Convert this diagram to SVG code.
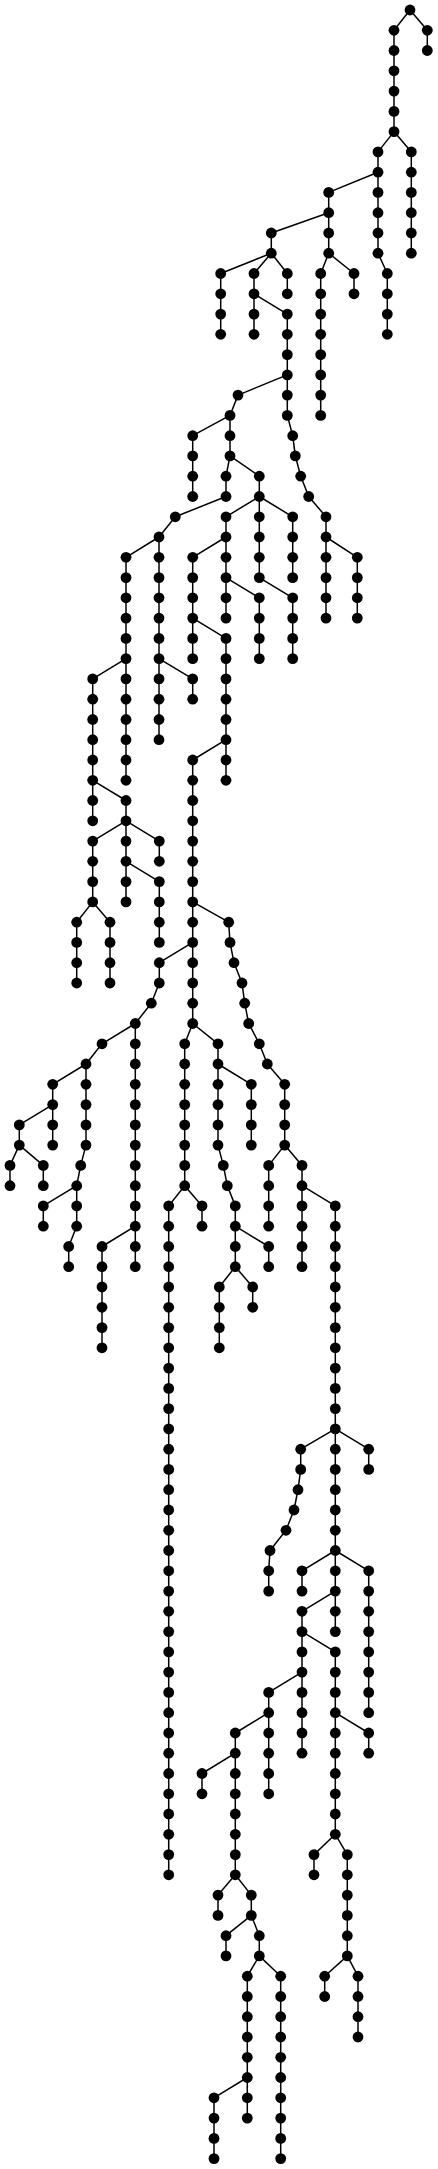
<svg xmlns="http://www.w3.org/2000/svg" width="438" height="2169" viewBox="0 0 438 2169">
<style>
.c path{fill:none;stroke:#000;stroke-width:1.5}
.n circle{fill:#000;r:5.4px}
</style>
<rect width="438" height="2169" fill="#fff"/>
<g id="connectors" class="c">
<path d="M410 10L394 30.3"/><path d="M410 10L427.3 30.3"/>
<path d="M427.3 30.3V50.5"/>
<path d="M394 30.3V131.6"/>
<path d="M394 131.6L378 151.9"/><path d="M394 131.6L411.3 151.9"/>
<path d="M411.3 151.9V253.2"/>
<path d="M378 151.9V253.2"/>
<path d="M378 172.2L328.7 192.4"/>
<path d="M328.7 192.4V253.2"/>
<path d="M328.7 212.7L271.3 233"/>
<path d="M271.3 233V253.2"/>
<path d="M271.3 253.2L220.7 273.5"/><path d="M271.3 253.2L254 273.5"/><path d="M271.3 253.2L287.3 273.5"/>
<path d="M328.7 253.2L320.7 273.5"/><path d="M328.7 253.2L354 273.5"/>
<path d="M378 253.2L387.3 273.5"/>
<path d="M220.7 273.5V334.3"/>
<path d="M254 273.5V334.3"/>
<path d="M287.3 273.5V293.8"/>
<path d="M354 273.5V293.8"/>
<path d="M387.3 273.5V334.3"/>
<path d="M254 293.8L287.3 314.1"/>
<path d="M287.3 314.1V395.1"/>
<path d="M320.7 273.5V415.4"/>
<path d="M287.3 374.9L238 395.1"/>
<path d="M287.3 395.1V415.4"/>
<path d="M238 395.1L230 415.4"/>
<path d="M230 415.4V455.9"/>
<path d="M230 415.4L192.7 435.7"/>
<path d="M192.7 435.7V496.5"/>
<path d="M287.3 415.4L292.7 435.7"/>
<path d="M292.7 435.7L295.3 455.9"/><path d="M295.3 455.9L300.7 476.2"/><path d="M300.7 476.2L308.7 496.5"/><path d="M308.7 496.5L326 516.8"/>
<path d="M230 455.9L226 476.2"/><path d="M230 455.9L259.3 476.2"/>
<path d="M226 476.2V496.5"/>
<path d="M259.3 476.2V577.6"/>
<path d="M226 496.5L175.3 516.8"/>
<path d="M175.3 516.8L159 537"/>
<path d="M259.3 496.5L226 516.8"/><path d="M259.3 496.5L292.7 516.8"/>
<path d="M292.7 516.8V577.6"/>
<path d="M326 516.8V618.1"/>
<path d="M326 537L357.3 557.3"/>
<path d="M357.3 557.3V618.1"/>
<path d="M226 516.8V618.1"/>
<path d="M226 537L192.7 557.3"/>
<path d="M192.7 557.3V658.6"/>
<path d="M226 577.6L259.3 597.8"/>
<path d="M259.3 597.8V658.6"/>
<path d="M259.3 577.6L292.7 597.8"/>
<path d="M292.7 597.8V658.6"/>
<path d="M192.7 618.1L226 638.4"/>
<path d="M226 638.4V780.3"/>
<path d="M159 537V658.6"/>
<path d="M159 537L126 557.3"/>
<path d="M126 557.3V658.6"/>
<path d="M126 658.6L92.7 678.9"/>
<path d="M126 658.6V780.3"/>
<path d="M159 658.6V739.7"/>
<path d="M159 658.6L192.7 678.9"/>
<path d="M192.7 678.9V699.2"/>
<path d="M92.7 678.9V820.8"/>
<path d="M92.7 780.3L126 800.5"/>
<path d="M126 800.5V901.9"/>
<path d="M126 820.8L92.7 841.1"/><path d="M126 820.8L159.3 841.1"/>
<path d="M159.3 841.1V861.3"/>
<path d="M126 861.3L159.3 881.6"/>
<path d="M159.3 881.6V942.4"/>
<path d="M92.7 841.1V901.9"/>
<path d="M92.7 901.9L76.7 922.2"/><path d="M92.7 901.9L110 922.2"/>
<path d="M76.7 922.2V983"/>
<path d="M110 922.2V983"/>
<path d="M226 739.7L192.7 760"/>
<path d="M192.7 760V1023.5"/>
<path d="M192.7 901.9L228.7 922.2"/>
<path d="M228.7 922.2L230 942.4"/><path d="M230 942.4L234 962.7"/><path d="M234 962.7L242 983"/><path d="M242 983L244.7 1003.2"/><path d="M244.7 1003.2L248.7 1023.5"/><path d="M248.7 1023.5L259.3 1043.8"/><path d="M259.3 1043.8L267.3 1064"/><path d="M267.3 1064L284.7 1084.3"/>
<path d="M192.7 942.4L159.3 962.7"/>
<path d="M159.3 962.7V983"/>
<path d="M159.3 983L151.3 1003.2"/>
<path d="M151.3 1003.2L135.3 1023.5"/>
<path d="M135.3 1023.5L102 1043.8"/>
<path d="M135.3 1023.5V1266.7"/>
<path d="M102 1043.8L86 1064"/>
<path d="M86 1064L52.7 1084.3"/>
<path d="M86 1064V1145.1"/>
<path d="M52.7 1084.3V1145.1"/>
<path d="M52.7 1104.6L19.3 1124.9"/>
<path d="M19.3 1124.9V1145.1"/>
<path d="M19.3 1145.1L10 1165.4"/><path d="M19.3 1145.1L43.3 1165.4"/>
<path d="M10 1165.4V1185.7"/>
<path d="M43.3 1165.4V1185.7"/>
<path d="M86 1145.1L80.7 1165.4"/><path d="M80.7 1165.4L76.7 1185.7"/>
<path d="M76.7 1185.7V1226.2"/>
<path d="M76.7 1185.7L43.3 1205.9"/>
<path d="M43.3 1205.9V1226.2"/>
<path d="M76.7 1226.2L68.7 1246.5"/>
<path d="M68.7 1246.5V1266.7"/>
<path d="M135.3 1226.2L102 1246.5"/>
<path d="M102 1246.5V1347.8"/>
<path d="M192.7 1023.5L184.7 1043.8"/><path d="M192.7 1023.5L218 1043.8"/>
<path d="M184.7 1043.8V1185.7"/>
<path d="M184.7 1185.7L168.7 1205.9"/><path d="M184.7 1185.7L202 1205.9"/>
<path d="M202 1205.9V1226.2"/>
<path d="M168.7 1205.9V1874.8"/>
<path d="M218 1043.8V1145.1"/>
<path d="M218 1064L251.3 1084.3"/>
<path d="M251.3 1084.3V1145.1"/>
<path d="M218 1145.1L223.3 1165.4"/><path d="M223.3 1165.4L227.3 1185.7"/><path d="M227.3 1185.7L235.3 1205.9"/>
<path d="M235.3 1205.9V1266.7"/>
<path d="M235.3 1226.2L268.7 1246.5"/>
<path d="M268.7 1246.5V1266.7"/>
<path d="M235.3 1266.7L219.3 1287"/><path d="M235.3 1266.7L252.7 1287"/>
<path d="M252.7 1287V1307.3"/>
<path d="M219.3 1287V1347.8"/>
<path d="M284.7 1084.3V1145.1"/>
<path d="M284.7 1145.1L268.7 1165.4"/><path d="M284.7 1145.1L302 1165.4"/>
<path d="M268.7 1165.4V1226.2"/>
<path d="M302 1165.4V1266.7"/>
<path d="M302 1185.7L335.3 1205.9"/>
<path d="M335.3 1205.9V1428.9"/>
<path d="M335.3 1428.9L300.7 1449.2"/><path d="M335.3 1428.9L368.7 1449.2"/>
<path d="M368.7 1449.2V1469.4"/>
<path d="M300.7 1449.2V1469.4"/>
<path d="M300.7 1469.4L298 1489.7"/><path d="M298 1489.7L294 1510"/><path d="M294 1510L286 1530.3"/><path d="M286 1530.3L270 1550.5"/><path d="M270 1550.5L268.7 1570.8"/>
<path d="M268.7 1570.8V1591.1"/>
<path d="M335.3 1428.9V1550.5"/>
<path d="M335.3 1550.5L302 1570.8"/><path d="M335.3 1550.5L368.7 1570.8"/>
<path d="M302 1570.8V1591.1"/>
<path d="M368.7 1570.8V1712.7"/>
<path d="M335.3 1550.5V1631.6"/>
<path d="M335.3 1591.1L302 1611.3"/>
<path d="M302 1611.3V1753.2"/>
<path d="M302 1631.6L335.3 1651.9"/>
<path d="M335.3 1651.9V1834.3"/>
<path d="M335.3 1712.7L368.7 1733"/>
<path d="M368.7 1733V1753.2"/>
<path d="M302 1672.1L268.7 1692.4"/>
<path d="M268.7 1692.4V1793.8"/>
<path d="M268.7 1712.7L235.3 1733"/>
<path d="M235.3 1733V1874.8"/>
<path d="M235.3 1753.2L202 1773.5"/>
<path d="M202 1773.5V1793.8"/>
<path d="M235.3 1874.8L218 1895.1"/><path d="M235.3 1874.8L251.3 1895.1"/>
<path d="M218 1895.1V1915.4"/>
<path d="M251.3 1895.1V1915.4"/>
<path d="M251.3 1915.4L226 1935.7"/><path d="M251.3 1915.4L259.3 1935.7"/>
<path d="M226 1935.7V1955.9"/>
<path d="M259.3 1935.7V1955.9"/>
<path d="M259.3 1955.9L247.3 1976.2"/><path d="M259.3 1955.9L280.7 1976.2"/>
<path d="M247.3 1976.2V2118.1"/>
<path d="M280.7 1976.2V2158.6"/>
<path d="M247.3 2077.5L214 2097.8"/>
<path d="M214 2097.8V2158.6"/>
<path d="M335.3 1834.3L314 1854.6"/><path d="M335.3 1834.3L347.3 1854.6"/>
<path d="M314 1854.6V1874.8"/>
<path d="M347.3 1854.6V1955.9"/>
<path d="M347.3 1955.9L324.7 1976.2"/><path d="M347.3 1955.9L358 1976.2"/>
<path d="M324.7 1976.2V1996.5"/>
<path d="M358 1976.2V2037"/>
</g>
<g id="nodes" class="n">
<g id="n0_a"><circle cx="410" cy="10"/></g>
<g id="n1_a"><circle cx="394" cy="30.3"/></g><g id="n1_b"><circle cx="427.3" cy="30.3"/></g>
<g id="n2_a"><circle cx="394" cy="50.5"/></g><g id="n2_b"><circle cx="427.3" cy="50.5"/></g>
<g id="n3_a"><circle cx="394" cy="70.8"/></g>
<g id="n4_a"><circle cx="394" cy="91.1"/></g>
<g id="n5_a"><circle cx="394" cy="111.4"/></g>
<g id="n6_a"><circle cx="394" cy="131.6"/></g>
<g id="n7_a"><circle cx="378" cy="151.9"/></g><g id="n7_b"><circle cx="411.3" cy="151.9"/></g>
<g id="n8_a"><circle cx="378" cy="172.2"/></g><g id="n8_b"><circle cx="411.3" cy="172.2"/></g>
<g id="n9_a"><circle cx="328.7" cy="192.4"/></g><g id="n9_b"><circle cx="378" cy="192.4"/></g><g id="n9_c"><circle cx="411.3" cy="192.4"/></g>
<g id="n10_a"><circle cx="328.7" cy="212.7"/></g><g id="n10_b"><circle cx="378" cy="212.7"/></g><g id="n10_c"><circle cx="411.3" cy="212.7"/></g>
<g id="n11_a"><circle cx="271.3" cy="233"/></g><g id="n11_b"><circle cx="328.7" cy="233"/></g><g id="n11_c"><circle cx="378" cy="233"/></g><g id="n11_d"><circle cx="411.3" cy="233"/></g>
<g id="n12_a"><circle cx="271.3" cy="253.2"/></g><g id="n12_b"><circle cx="328.7" cy="253.2"/></g><g id="n12_c"><circle cx="378" cy="253.2"/></g><g id="n12_d"><circle cx="411.3" cy="253.2"/></g>
<g id="n13_a"><circle cx="220.7" cy="273.5"/></g><g id="n13_b"><circle cx="254" cy="273.5"/></g><g id="n13_c"><circle cx="287.3" cy="273.5"/></g><g id="n13_d"><circle cx="320.7" cy="273.5"/></g><g id="n13_e"><circle cx="354" cy="273.5"/></g><g id="n13_f"><circle cx="387.3" cy="273.5"/></g>
<g id="n14_a"><circle cx="220.7" cy="293.8"/></g><g id="n14_b"><circle cx="254" cy="293.8"/></g><g id="n14_c"><circle cx="287.3" cy="293.8"/></g><g id="n14_d"><circle cx="320.7" cy="293.8"/></g><g id="n14_e"><circle cx="354" cy="293.8"/></g><g id="n14_f"><circle cx="387.3" cy="293.8"/></g>
<g id="n15_a"><circle cx="220.7" cy="314.1"/></g><g id="n15_b"><circle cx="254" cy="314.1"/></g><g id="n15_c"><circle cx="287.3" cy="314.1"/></g><g id="n15_d"><circle cx="320.7" cy="314.1"/></g><g id="n15_e"><circle cx="387.3" cy="314.1"/></g>
<g id="n16_a"><circle cx="220.7" cy="334.3"/></g><g id="n16_b"><circle cx="254" cy="334.3"/></g><g id="n16_c"><circle cx="287.3" cy="334.3"/></g><g id="n16_d"><circle cx="320.7" cy="334.3"/></g><g id="n16_e"><circle cx="387.3" cy="334.3"/></g>
<g id="n17_a"><circle cx="287.3" cy="354.6"/></g><g id="n17_b"><circle cx="320.7" cy="354.6"/></g>
<g id="n18_a"><circle cx="287.3" cy="374.9"/></g><g id="n18_b"><circle cx="320.7" cy="374.9"/></g>
<g id="n19_a"><circle cx="238" cy="395.1"/></g><g id="n19_b"><circle cx="287.3" cy="395.1"/></g><g id="n19_c"><circle cx="320.7" cy="395.1"/></g>
<g id="n20_a"><circle cx="230" cy="415.4"/></g><g id="n20_b"><circle cx="287.3" cy="415.4"/></g><g id="n20_c"><circle cx="320.7" cy="415.4"/></g>
<g id="n21_a"><circle cx="192.7" cy="435.7"/></g><g id="n21_b"><circle cx="230" cy="435.7"/></g><g id="n21_c"><circle cx="292.7" cy="435.7"/></g>
<g id="n22_a"><circle cx="192.7" cy="455.9"/></g><g id="n22_b"><circle cx="230" cy="455.9"/></g><g id="n22_c"><circle cx="295.3" cy="455.9"/></g>
<g id="n23_a"><circle cx="192.7" cy="476.2"/></g><g id="n23_b"><circle cx="226" cy="476.2"/></g><g id="n23_c"><circle cx="259.3" cy="476.2"/></g><g id="n23_d"><circle cx="300.7" cy="476.2"/></g>
<g id="n24_a"><circle cx="192.7" cy="496.5"/></g><g id="n24_b"><circle cx="226" cy="496.5"/></g><g id="n24_c"><circle cx="259.3" cy="496.5"/></g><g id="n24_d"><circle cx="308.7" cy="496.5"/></g>
<g id="n25_a"><circle cx="175.3" cy="516.8"/></g><g id="n25_b"><circle cx="226" cy="516.8"/></g><g id="n25_c"><circle cx="259.3" cy="516.8"/></g><g id="n25_d"><circle cx="292.7" cy="516.8"/></g><g id="n25_e"><circle cx="326" cy="516.8"/></g>
<g id="n26_a"><circle cx="159" cy="537"/></g><g id="n26_b"><circle cx="226" cy="537"/></g><g id="n26_c"><circle cx="259.3" cy="537"/></g><g id="n26_d"><circle cx="292.7" cy="537"/></g><g id="n26_e"><circle cx="326" cy="537"/></g>
<g id="n27_a"><circle cx="126" cy="557.3"/></g><g id="n27_b"><circle cx="159" cy="557.3"/></g><g id="n27_c"><circle cx="192.7" cy="557.3"/></g><g id="n27_d"><circle cx="226" cy="557.3"/></g><g id="n27_e"><circle cx="259.3" cy="557.3"/></g><g id="n27_f"><circle cx="292.7" cy="557.3"/></g><g id="n27_g"><circle cx="326" cy="557.3"/></g><g id="n27_h"><circle cx="357.3" cy="557.3"/></g>
<g id="n28_a"><circle cx="126" cy="577.6"/></g><g id="n28_b"><circle cx="159" cy="577.6"/></g><g id="n28_c"><circle cx="192.7" cy="577.6"/></g><g id="n28_d"><circle cx="226" cy="577.6"/></g><g id="n28_e"><circle cx="259.3" cy="577.6"/></g><g id="n28_f"><circle cx="292.7" cy="577.6"/></g><g id="n28_g"><circle cx="326" cy="577.6"/></g><g id="n28_h"><circle cx="357.3" cy="577.6"/></g>
<g id="n29_a"><circle cx="126" cy="597.8"/></g><g id="n29_b"><circle cx="159" cy="597.8"/></g><g id="n29_c"><circle cx="192.7" cy="597.8"/></g><g id="n29_d"><circle cx="226" cy="597.8"/></g><g id="n29_e"><circle cx="259.3" cy="597.8"/></g><g id="n29_f"><circle cx="292.7" cy="597.8"/></g><g id="n29_g"><circle cx="326" cy="597.8"/></g><g id="n29_h"><circle cx="357.3" cy="597.8"/></g>
<g id="n30_a"><circle cx="126" cy="618.1"/></g><g id="n30_b"><circle cx="159" cy="618.1"/></g><g id="n30_c"><circle cx="192.7" cy="618.1"/></g><g id="n30_d"><circle cx="226" cy="618.1"/></g><g id="n30_e"><circle cx="259.3" cy="618.1"/></g><g id="n30_f"><circle cx="292.7" cy="618.1"/></g><g id="n30_g"><circle cx="326" cy="618.1"/></g><g id="n30_h"><circle cx="357.3" cy="618.1"/></g>
<g id="n31_a"><circle cx="126" cy="638.4"/></g><g id="n31_b"><circle cx="159" cy="638.4"/></g><g id="n31_c"><circle cx="192.7" cy="638.4"/></g><g id="n31_d"><circle cx="226" cy="638.4"/></g><g id="n31_e"><circle cx="259.3" cy="638.4"/></g><g id="n31_f"><circle cx="292.7" cy="638.4"/></g>
<g id="n32_a"><circle cx="126" cy="658.6"/></g><g id="n32_b"><circle cx="159" cy="658.6"/></g><g id="n32_c"><circle cx="192.7" cy="658.6"/></g><g id="n32_d"><circle cx="226" cy="658.6"/></g><g id="n32_e"><circle cx="259.3" cy="658.6"/></g><g id="n32_f"><circle cx="292.7" cy="658.6"/></g>
<g id="n33_a"><circle cx="92.7" cy="678.9"/></g><g id="n33_b"><circle cx="126" cy="678.9"/></g><g id="n33_c"><circle cx="159" cy="678.9"/></g><g id="n33_d"><circle cx="192.7" cy="678.9"/></g><g id="n33_e"><circle cx="226" cy="678.9"/></g>
<g id="n34_a"><circle cx="92.7" cy="699.2"/></g><g id="n34_b"><circle cx="126" cy="699.2"/></g><g id="n34_c"><circle cx="159" cy="699.2"/></g><g id="n34_d"><circle cx="192.7" cy="699.2"/></g><g id="n34_e"><circle cx="226" cy="699.2"/></g>
<g id="n35_a"><circle cx="92.7" cy="719.5"/></g><g id="n35_b"><circle cx="126" cy="719.5"/></g><g id="n35_c"><circle cx="159" cy="719.5"/></g><g id="n35_d"><circle cx="226" cy="719.5"/></g>
<g id="n36_a"><circle cx="92.7" cy="739.7"/></g><g id="n36_b"><circle cx="126" cy="739.7"/></g><g id="n36_c"><circle cx="159" cy="739.7"/></g><g id="n36_d"><circle cx="226" cy="739.7"/></g>
<g id="n37_a"><circle cx="92.7" cy="760"/></g><g id="n37_b"><circle cx="126" cy="760"/></g><g id="n37_c"><circle cx="192.7" cy="760"/></g><g id="n37_d"><circle cx="226" cy="760"/></g>
<g id="n38_a"><circle cx="92.7" cy="780.3"/></g><g id="n38_b"><circle cx="126" cy="780.3"/></g><g id="n38_c"><circle cx="192.7" cy="780.3"/></g><g id="n38_d"><circle cx="226" cy="780.3"/></g>
<g id="n39_a"><circle cx="92.7" cy="800.5"/></g><g id="n39_b"><circle cx="126" cy="800.5"/></g><g id="n39_c"><circle cx="192.7" cy="800.5"/></g>
<g id="n40_a"><circle cx="92.7" cy="820.8"/></g><g id="n40_b"><circle cx="126" cy="820.8"/></g><g id="n40_c"><circle cx="192.7" cy="820.8"/></g>
<g id="n41_a"><circle cx="92.7" cy="841.1"/></g><g id="n41_b"><circle cx="126" cy="841.1"/></g><g id="n41_c"><circle cx="159.3" cy="841.1"/></g><g id="n41_d"><circle cx="192.7" cy="841.1"/></g>
<g id="n42_a"><circle cx="92.7" cy="861.3"/></g><g id="n42_b"><circle cx="126" cy="861.3"/></g><g id="n42_c"><circle cx="159.3" cy="861.3"/></g><g id="n42_d"><circle cx="192.7" cy="861.3"/></g>
<g id="n43_a"><circle cx="92.7" cy="881.6"/></g><g id="n43_b"><circle cx="126" cy="881.6"/></g><g id="n43_c"><circle cx="159.3" cy="881.6"/></g><g id="n43_d"><circle cx="192.7" cy="881.6"/></g>
<g id="n44_a"><circle cx="92.7" cy="901.9"/></g><g id="n44_b"><circle cx="126" cy="901.9"/></g><g id="n44_c"><circle cx="159.3" cy="901.9"/></g><g id="n44_d"><circle cx="192.7" cy="901.9"/></g>
<g id="n45_a"><circle cx="76.7" cy="922.2"/></g><g id="n45_b"><circle cx="110" cy="922.2"/></g><g id="n45_c"><circle cx="159.3" cy="922.2"/></g><g id="n45_d"><circle cx="192.7" cy="922.2"/></g><g id="n45_e"><circle cx="228.7" cy="922.2"/></g>
<g id="n46_a"><circle cx="76.7" cy="942.4"/></g><g id="n46_b"><circle cx="110" cy="942.4"/></g><g id="n46_c"><circle cx="159.3" cy="942.4"/></g><g id="n46_d"><circle cx="192.7" cy="942.4"/></g><g id="n46_e"><circle cx="230" cy="942.4"/></g>
<g id="n47_a"><circle cx="76.7" cy="962.7"/></g><g id="n47_b"><circle cx="110" cy="962.7"/></g><g id="n47_c"><circle cx="159.3" cy="962.7"/></g><g id="n47_d"><circle cx="192.7" cy="962.7"/></g><g id="n47_e"><circle cx="234" cy="962.7"/></g>
<g id="n48_a"><circle cx="76.7" cy="983"/></g><g id="n48_b"><circle cx="110" cy="983"/></g><g id="n48_c"><circle cx="159.3" cy="983"/></g><g id="n48_d"><circle cx="192.7" cy="983"/></g><g id="n48_e"><circle cx="242" cy="983"/></g>
<g id="n49_a"><circle cx="151.3" cy="1003.2"/></g><g id="n49_b"><circle cx="192.7" cy="1003.2"/></g><g id="n49_c"><circle cx="244.7" cy="1003.2"/></g>
<g id="n50_a"><circle cx="135.3" cy="1023.5"/></g><g id="n50_b"><circle cx="192.7" cy="1023.5"/></g><g id="n50_c"><circle cx="248.7" cy="1023.5"/></g>
<g id="n51_a"><circle cx="102" cy="1043.8"/></g><g id="n51_b"><circle cx="135.3" cy="1043.8"/></g><g id="n51_c"><circle cx="184.7" cy="1043.8"/></g><g id="n51_d"><circle cx="218" cy="1043.8"/></g><g id="n51_e"><circle cx="259.3" cy="1043.8"/></g>
<g id="n52_a"><circle cx="86" cy="1064"/></g><g id="n52_b"><circle cx="135.3" cy="1064"/></g><g id="n52_c"><circle cx="184.7" cy="1064"/></g><g id="n52_d"><circle cx="218" cy="1064"/></g><g id="n52_e"><circle cx="267.3" cy="1064"/></g>
<g id="n53_a"><circle cx="52.7" cy="1084.3"/></g><g id="n53_b"><circle cx="86" cy="1084.3"/></g><g id="n53_c"><circle cx="135.3" cy="1084.3"/></g><g id="n53_d"><circle cx="184.7" cy="1084.3"/></g><g id="n53_e"><circle cx="218" cy="1084.3"/></g><g id="n53_f"><circle cx="251.3" cy="1084.3"/></g><g id="n53_g"><circle cx="284.7" cy="1084.3"/></g>
<g id="n54_a"><circle cx="52.7" cy="1104.6"/></g><g id="n54_b"><circle cx="86" cy="1104.6"/></g><g id="n54_c"><circle cx="135.3" cy="1104.6"/></g><g id="n54_d"><circle cx="184.7" cy="1104.6"/></g><g id="n54_e"><circle cx="218" cy="1104.6"/></g><g id="n54_f"><circle cx="251.3" cy="1104.6"/></g><g id="n54_g"><circle cx="284.7" cy="1104.6"/></g>
<g id="n55_a"><circle cx="19.3" cy="1124.9"/></g><g id="n55_b"><circle cx="52.7" cy="1124.9"/></g><g id="n55_c"><circle cx="86" cy="1124.9"/></g><g id="n55_d"><circle cx="135.3" cy="1124.9"/></g><g id="n55_e"><circle cx="184.7" cy="1124.9"/></g><g id="n55_f"><circle cx="218" cy="1124.9"/></g><g id="n55_g"><circle cx="251.3" cy="1124.9"/></g><g id="n55_h"><circle cx="284.7" cy="1124.9"/></g>
<g id="n56_a"><circle cx="19.3" cy="1145.1"/></g><g id="n56_b"><circle cx="52.7" cy="1145.1"/></g><g id="n56_c"><circle cx="86" cy="1145.1"/></g><g id="n56_d"><circle cx="135.3" cy="1145.1"/></g><g id="n56_e"><circle cx="184.7" cy="1145.1"/></g><g id="n56_f"><circle cx="218" cy="1145.1"/></g><g id="n56_g"><circle cx="251.3" cy="1145.1"/></g><g id="n56_h"><circle cx="284.7" cy="1145.1"/></g>
<g id="n57_a"><circle cx="10" cy="1165.4"/></g><g id="n57_b"><circle cx="43.3" cy="1165.4"/></g><g id="n57_c"><circle cx="80.7" cy="1165.4"/></g><g id="n57_d"><circle cx="135.3" cy="1165.4"/></g><g id="n57_e"><circle cx="184.7" cy="1165.4"/></g><g id="n57_f"><circle cx="223.3" cy="1165.4"/></g><g id="n57_g"><circle cx="268.7" cy="1165.4"/></g><g id="n57_h"><circle cx="302" cy="1165.4"/></g>
<g id="n58_a"><circle cx="10" cy="1185.7"/></g><g id="n58_b"><circle cx="43.3" cy="1185.7"/></g><g id="n58_c"><circle cx="76.7" cy="1185.7"/></g><g id="n58_d"><circle cx="135.3" cy="1185.7"/></g><g id="n58_e"><circle cx="184.7" cy="1185.7"/></g><g id="n58_f"><circle cx="227.3" cy="1185.7"/></g><g id="n58_g"><circle cx="268.7" cy="1185.7"/></g><g id="n58_h"><circle cx="302" cy="1185.7"/></g>
<g id="n59_a"><circle cx="43.3" cy="1205.9"/></g><g id="n59_b"><circle cx="76.7" cy="1205.9"/></g><g id="n59_c"><circle cx="135.3" cy="1205.9"/></g><g id="n59_d"><circle cx="168.7" cy="1205.9"/></g><g id="n59_e"><circle cx="202" cy="1205.9"/></g><g id="n59_f"><circle cx="235.3" cy="1205.9"/></g><g id="n59_g"><circle cx="268.7" cy="1205.9"/></g><g id="n59_h"><circle cx="302" cy="1205.9"/></g><g id="n59_i"><circle cx="335.3" cy="1205.9"/></g>
<g id="n60_a"><circle cx="43.3" cy="1226.2"/></g><g id="n60_b"><circle cx="76.7" cy="1226.2"/></g><g id="n60_c"><circle cx="135.3" cy="1226.2"/></g><g id="n60_d"><circle cx="168.7" cy="1226.2"/></g><g id="n60_e"><circle cx="202" cy="1226.2"/></g><g id="n60_f"><circle cx="235.3" cy="1226.2"/></g><g id="n60_g"><circle cx="268.7" cy="1226.2"/></g><g id="n60_h"><circle cx="302" cy="1226.2"/></g><g id="n60_i"><circle cx="335.3" cy="1226.2"/></g>
<g id="n61_a"><circle cx="68.7" cy="1246.5"/></g><g id="n61_b"><circle cx="102" cy="1246.5"/></g><g id="n61_c"><circle cx="135.3" cy="1246.5"/></g><g id="n61_d"><circle cx="168.7" cy="1246.5"/></g><g id="n61_e"><circle cx="235.3" cy="1246.5"/></g><g id="n61_f"><circle cx="268.7" cy="1246.5"/></g><g id="n61_g"><circle cx="302" cy="1246.5"/></g><g id="n61_h"><circle cx="335.3" cy="1246.5"/></g>
<g id="n62_a"><circle cx="68.7" cy="1266.7"/></g><g id="n62_b"><circle cx="102" cy="1266.7"/></g><g id="n62_c"><circle cx="135.3" cy="1266.7"/></g><g id="n62_d"><circle cx="168.7" cy="1266.7"/></g><g id="n62_e"><circle cx="235.3" cy="1266.7"/></g><g id="n62_f"><circle cx="268.7" cy="1266.7"/></g><g id="n62_g"><circle cx="302" cy="1266.7"/></g><g id="n62_h"><circle cx="335.3" cy="1266.7"/></g>
<g id="n63_a"><circle cx="102" cy="1287"/></g><g id="n63_b"><circle cx="168.7" cy="1287"/></g><g id="n63_c"><circle cx="219.3" cy="1287"/></g><g id="n63_d"><circle cx="252.7" cy="1287"/></g><g id="n63_e"><circle cx="335.3" cy="1287"/></g>
<g id="n64_a"><circle cx="102" cy="1307.3"/></g><g id="n64_b"><circle cx="168.7" cy="1307.3"/></g><g id="n64_c"><circle cx="219.3" cy="1307.3"/></g><g id="n64_d"><circle cx="252.7" cy="1307.3"/></g><g id="n64_e"><circle cx="335.3" cy="1307.3"/></g>
<g id="n65_a"><circle cx="102" cy="1327.6"/></g><g id="n65_b"><circle cx="168.7" cy="1327.6"/></g><g id="n65_c"><circle cx="219.3" cy="1327.6"/></g><g id="n65_d"><circle cx="335.3" cy="1327.6"/></g>
<g id="n66_a"><circle cx="102" cy="1347.8"/></g><g id="n66_b"><circle cx="168.7" cy="1347.8"/></g><g id="n66_c"><circle cx="219.3" cy="1347.8"/></g><g id="n66_d"><circle cx="335.3" cy="1347.8"/></g>
<g id="n67_a"><circle cx="168.7" cy="1368.1"/></g><g id="n67_b"><circle cx="335.3" cy="1368.1"/></g>
<g id="n68_a"><circle cx="168.7" cy="1388.4"/></g><g id="n68_b"><circle cx="335.3" cy="1388.4"/></g>
<g id="n69_a"><circle cx="168.7" cy="1408.6"/></g><g id="n69_b"><circle cx="335.3" cy="1408.6"/></g>
<g id="n70_a"><circle cx="168.7" cy="1428.9"/></g><g id="n70_b"><circle cx="335.3" cy="1428.9"/></g>
<g id="n71_a"><circle cx="168.7" cy="1449.2"/></g><g id="n71_b"><circle cx="300.7" cy="1449.2"/></g><g id="n71_c"><circle cx="335.3" cy="1449.2"/></g><g id="n71_d"><circle cx="368.7" cy="1449.2"/></g>
<g id="n72_a"><circle cx="168.7" cy="1469.4"/></g><g id="n72_b"><circle cx="300.7" cy="1469.4"/></g><g id="n72_c"><circle cx="335.3" cy="1469.4"/></g><g id="n72_d"><circle cx="368.7" cy="1469.4"/></g>
<g id="n73_a"><circle cx="168.7" cy="1489.7"/></g><g id="n73_b"><circle cx="298" cy="1489.7"/></g><g id="n73_c"><circle cx="335.3" cy="1489.7"/></g>
<g id="n74_a"><circle cx="168.7" cy="1510"/></g><g id="n74_b"><circle cx="294" cy="1510"/></g><g id="n74_c"><circle cx="335.3" cy="1510"/></g>
<g id="n75_a"><circle cx="168.7" cy="1530.3"/></g><g id="n75_b"><circle cx="286" cy="1530.3"/></g><g id="n75_c"><circle cx="335.3" cy="1530.3"/></g>
<g id="n76_a"><circle cx="168.7" cy="1550.5"/></g><g id="n76_b"><circle cx="270" cy="1550.5"/></g><g id="n76_c"><circle cx="335.3" cy="1550.5"/></g>
<g id="n77_a"><circle cx="168.7" cy="1570.8"/></g><g id="n77_b"><circle cx="268.7" cy="1570.8"/></g><g id="n77_c"><circle cx="302" cy="1570.8"/></g><g id="n77_d"><circle cx="335.3" cy="1570.8"/></g><g id="n77_e"><circle cx="368.7" cy="1570.8"/></g>
<g id="n78_a"><circle cx="168.7" cy="1591.1"/></g><g id="n78_b"><circle cx="268.7" cy="1591.1"/></g><g id="n78_c"><circle cx="302" cy="1591.1"/></g><g id="n78_d"><circle cx="335.3" cy="1591.1"/></g><g id="n78_e"><circle cx="368.7" cy="1591.1"/></g>
<g id="n79_a"><circle cx="168.7" cy="1611.3"/></g><g id="n79_b"><circle cx="302" cy="1611.3"/></g><g id="n79_c"><circle cx="335.3" cy="1611.3"/></g><g id="n79_d"><circle cx="368.7" cy="1611.3"/></g>
<g id="n80_a"><circle cx="168.7" cy="1631.6"/></g><g id="n80_b"><circle cx="302" cy="1631.6"/></g><g id="n80_c"><circle cx="335.3" cy="1631.6"/></g><g id="n80_d"><circle cx="368.7" cy="1631.6"/></g>
<g id="n81_a"><circle cx="168.7" cy="1651.9"/></g><g id="n81_b"><circle cx="302" cy="1651.9"/></g><g id="n81_c"><circle cx="335.3" cy="1651.9"/></g><g id="n81_d"><circle cx="368.7" cy="1651.9"/></g>
<g id="n82_a"><circle cx="168.7" cy="1672.1"/></g><g id="n82_b"><circle cx="302" cy="1672.1"/></g><g id="n82_c"><circle cx="335.3" cy="1672.1"/></g><g id="n82_d"><circle cx="368.7" cy="1672.1"/></g>
<g id="n83_a"><circle cx="168.7" cy="1692.4"/></g><g id="n83_b"><circle cx="268.7" cy="1692.4"/></g><g id="n83_c"><circle cx="302" cy="1692.4"/></g><g id="n83_d"><circle cx="335.3" cy="1692.4"/></g><g id="n83_e"><circle cx="368.7" cy="1692.4"/></g>
<g id="n84_a"><circle cx="168.7" cy="1712.7"/></g><g id="n84_b"><circle cx="268.7" cy="1712.7"/></g><g id="n84_c"><circle cx="302" cy="1712.7"/></g><g id="n84_d"><circle cx="335.3" cy="1712.7"/></g><g id="n84_e"><circle cx="368.7" cy="1712.7"/></g>
<g id="n85_a"><circle cx="168.7" cy="1733"/></g><g id="n85_b"><circle cx="235.3" cy="1733"/></g><g id="n85_c"><circle cx="268.7" cy="1733"/></g><g id="n85_d"><circle cx="302" cy="1733"/></g><g id="n85_e"><circle cx="335.3" cy="1733"/></g><g id="n85_f"><circle cx="368.7" cy="1733"/></g>
<g id="n86_a"><circle cx="168.7" cy="1753.2"/></g><g id="n86_b"><circle cx="235.3" cy="1753.2"/></g><g id="n86_c"><circle cx="268.7" cy="1753.2"/></g><g id="n86_d"><circle cx="302" cy="1753.2"/></g><g id="n86_e"><circle cx="335.3" cy="1753.2"/></g><g id="n86_f"><circle cx="368.7" cy="1753.2"/></g>
<g id="n87_a"><circle cx="168.7" cy="1773.5"/></g><g id="n87_b"><circle cx="202" cy="1773.5"/></g><g id="n87_c"><circle cx="235.3" cy="1773.5"/></g><g id="n87_d"><circle cx="268.7" cy="1773.5"/></g><g id="n87_e"><circle cx="335.3" cy="1773.5"/></g>
<g id="n88_a"><circle cx="168.7" cy="1793.8"/></g><g id="n88_b"><circle cx="202" cy="1793.8"/></g><g id="n88_c"><circle cx="235.3" cy="1793.8"/></g><g id="n88_d"><circle cx="268.7" cy="1793.8"/></g><g id="n88_e"><circle cx="335.3" cy="1793.8"/></g>
<g id="n89_a"><circle cx="168.7" cy="1814"/></g><g id="n89_b"><circle cx="235.3" cy="1814"/></g><g id="n89_c"><circle cx="335.3" cy="1814"/></g>
<g id="n90_a"><circle cx="168.7" cy="1834.3"/></g><g id="n90_b"><circle cx="235.3" cy="1834.3"/></g><g id="n90_c"><circle cx="335.3" cy="1834.3"/></g>
<g id="n91_a"><circle cx="168.7" cy="1854.6"/></g><g id="n91_b"><circle cx="235.3" cy="1854.6"/></g><g id="n91_c"><circle cx="314" cy="1854.6"/></g><g id="n91_d"><circle cx="347.3" cy="1854.6"/></g>
<g id="n92_a"><circle cx="168.7" cy="1874.8"/></g><g id="n92_b"><circle cx="235.3" cy="1874.8"/></g><g id="n92_c"><circle cx="314" cy="1874.8"/></g><g id="n92_d"><circle cx="347.3" cy="1874.8"/></g>
<g id="n93_a"><circle cx="218" cy="1895.1"/></g><g id="n93_b"><circle cx="251.3" cy="1895.1"/></g><g id="n93_c"><circle cx="347.3" cy="1895.1"/></g>
<g id="n94_a"><circle cx="218" cy="1915.4"/></g><g id="n94_b"><circle cx="251.3" cy="1915.4"/></g><g id="n94_c"><circle cx="347.3" cy="1915.4"/></g>
<g id="n95_a"><circle cx="226" cy="1935.7"/></g><g id="n95_b"><circle cx="259.3" cy="1935.7"/></g><g id="n95_c"><circle cx="347.3" cy="1935.7"/></g>
<g id="n96_a"><circle cx="226" cy="1955.9"/></g><g id="n96_b"><circle cx="259.3" cy="1955.9"/></g><g id="n96_c"><circle cx="347.3" cy="1955.9"/></g>
<g id="n97_a"><circle cx="247.3" cy="1976.2"/></g><g id="n97_b"><circle cx="280.7" cy="1976.2"/></g><g id="n97_c"><circle cx="324.7" cy="1976.2"/></g><g id="n97_d"><circle cx="358" cy="1976.2"/></g>
<g id="n98_a"><circle cx="247.3" cy="1996.5"/></g><g id="n98_b"><circle cx="280.7" cy="1996.5"/></g><g id="n98_c"><circle cx="324.7" cy="1996.5"/></g><g id="n98_d"><circle cx="358" cy="1996.5"/></g>
<g id="n99_a"><circle cx="247.3" cy="2016.7"/></g><g id="n99_b"><circle cx="280.7" cy="2016.7"/></g><g id="n99_c"><circle cx="358" cy="2016.7"/></g>
<g id="n100_a"><circle cx="247.3" cy="2037"/></g><g id="n100_b"><circle cx="280.7" cy="2037"/></g><g id="n100_c"><circle cx="358" cy="2037"/></g>
<g id="n101_a"><circle cx="247.3" cy="2057.3"/></g><g id="n101_b"><circle cx="280.7" cy="2057.3"/></g>
<g id="n102_a"><circle cx="247.3" cy="2077.5"/></g><g id="n102_b"><circle cx="280.7" cy="2077.5"/></g>
<g id="n103_a"><circle cx="214" cy="2097.8"/></g><g id="n103_b"><circle cx="247.3" cy="2097.8"/></g><g id="n103_c"><circle cx="280.7" cy="2097.8"/></g>
<g id="n104_a"><circle cx="214" cy="2118.1"/></g><g id="n104_b"><circle cx="247.3" cy="2118.1"/></g><g id="n104_c"><circle cx="280.7" cy="2118.1"/></g>
<g id="n105_a"><circle cx="214" cy="2138.4"/></g><g id="n105_b"><circle cx="280.7" cy="2138.4"/></g>
<g id="n106_a"><circle cx="214" cy="2158.6"/></g><g id="n106_b"><circle cx="280.7" cy="2158.6"/></g>
</g>
</svg>
